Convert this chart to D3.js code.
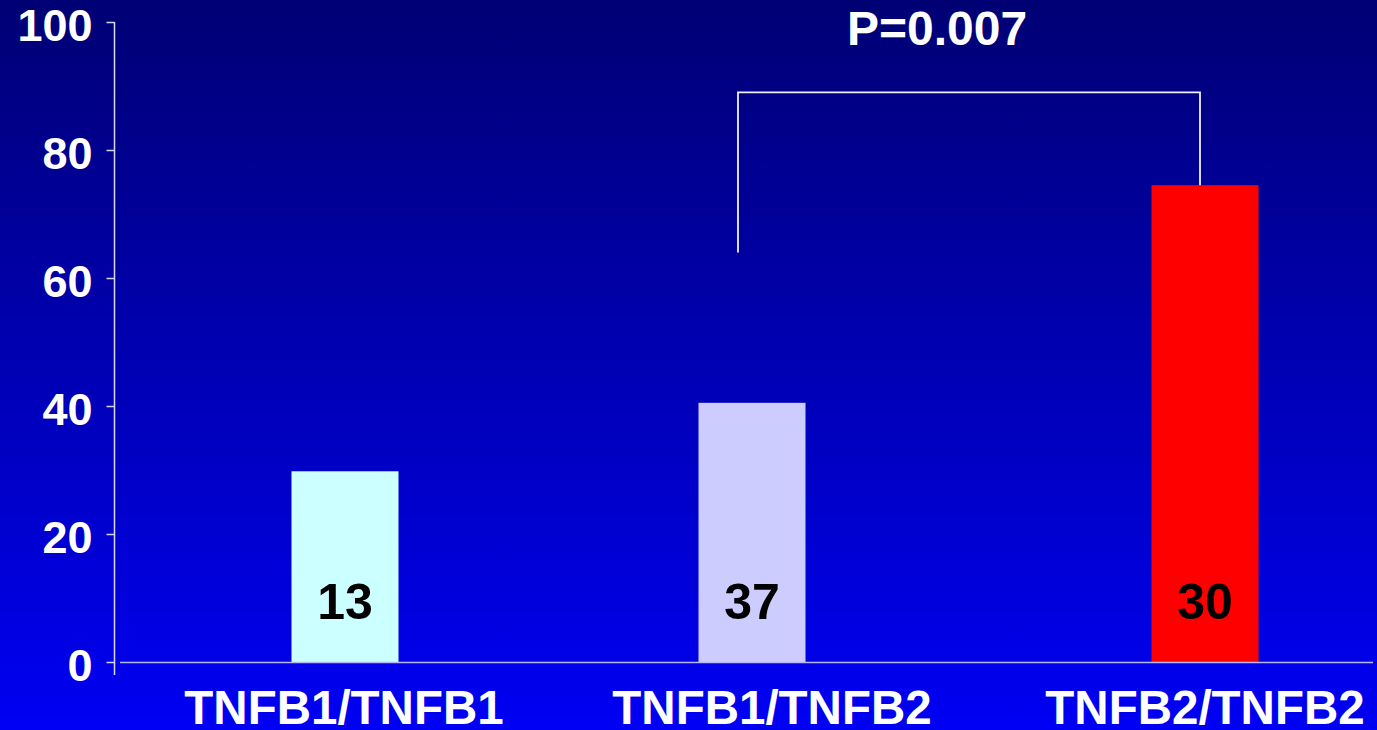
<!DOCTYPE html>
<html><head><meta charset="utf-8">
<script src="https://cdn.jsdelivr.net/npm/d3@7"></script>
<style>html,body{margin:0;padding:0;overflow:hidden;background:#0000c0}</style>
</head><body>
<svg id="chart" width="1377" height="730"></svg>
<script>
const categories = ["TNFB1/TNFB1", "TNFB1/TNFB2", "TNFB2/TNFB2"];
const values = [29.8, 40.5, 74.5];
const counts = ["13", "37", "30"];
const barColors = ["#ccffff", "#ccccff", "#ff0000"];
const yTicks = [0, 20, 40, 60, 80, 100];
const pLabel = "P=0.007";
const bracketTop = 89;
const bracketLeftBottom = 64;

const svg = d3.select("#chart");
const W = 1377, H = 730;
const defs = svg.append("defs");
const g = defs.append("linearGradient").attr("id","bg").attr("x1",0).attr("y1",0).attr("x2",0).attr("y2",1);
g.append("stop").attr("offset","0%").attr("stop-color","#000074");
g.append("stop").attr("offset","100%").attr("stop-color","#0000f4");
svg.append("rect").attr("width",W).attr("height",H).attr("fill","url(#bg)");

const y = d3.scaleLinear().domain([0,100]).range([662,22]);
const x = d3.scalePoint().domain(categories).range([345, 1205]);
const bw = 107;
const font = "'Liberation Sans', Arial, sans-serif";

// y axis
const yAxis = svg.append("g").attr("transform","translate(114.5,0)")
  .call(d3.axisLeft(y).tickValues(yTicks).tickSize(8).tickPadding(14).tickFormat(d3.format("d")));
yAxis.select(".domain").remove();
yAxis.append("line").attr("x1",0).attr("x2",0).attr("y1",y(100)).attr("y2",y(0)+13)
  .attr("stroke","#d8d8f0").attr("stroke-width",1.5);
yAxis.selectAll(".tick line").attr("stroke","#d8d8f0").attr("stroke-width",1.5);
yAxis.selectAll(".tick text").attr("fill","#fff").attr("font-family",font)
  .attr("font-weight","bold").attr("font-size",45).attr("dy","0.4em");

// bars
svg.selectAll("rect.bar").data(categories).join("rect").attr("class","bar")
  .attr("x",(d,i)=>x(d)-bw/2 + (i===1 ? -23 : 0))
  .attr("y",(d,i)=>y(values[i])).attr("width",bw)
  .attr("height",(d,i)=>y(0)-y(values[i])).attr("fill",(d,i)=>barColors[i]);

// x axis line
svg.append("line").attr("x1",120).attr("x2",1373).attr("y1",y(0)+0.5).attr("y2",y(0)+0.5)
  .attr("stroke","#b8b8f4").attr("stroke-width",1.5);

// counts
svg.selectAll("text.cnt").data(categories).join("text").attr("class","cnt")
  .attr("x",(d,i)=>x(d) + (i===1 ? -23 : 0)).attr("y",619)
  .attr("text-anchor","middle").attr("font-family",font).attr("font-weight","bold")
  .attr("font-size",50).attr("fill","#000").text((d,i)=>counts[i]);

// category labels
svg.selectAll("text.cat").data(categories).join("text").attr("class","cat")
  .attr("x",(d,i)=>x(d) + (i===0 ? -1 : (i===1 ? -3 : 0))).attr("y",724)
  .attr("text-anchor","middle").attr("font-family",font).attr("font-weight","bold")
  .attr("font-size",47.5).attr("fill","#fff").text(d=>d);

// bracket
const lx = x(categories[1]) - 37, rx = x(categories[2]) - 5;
svg.append("path")
  .attr("d", `M${lx},${y(bracketLeftBottom)} V${y(bracketTop)} H${rx} V${y(values[2])}`)
  .attr("fill","none").attr("stroke","#f0f0ff").attr("stroke-width",1.8);
svg.append("text").attr("x",(lx+rx)/2-32).attr("y",45).attr("text-anchor","middle")
  .attr("font-family",font).attr("font-weight","bold").attr("font-size",48)
  .attr("fill","#fff").text(pLabel);
</script>
</body></html>
